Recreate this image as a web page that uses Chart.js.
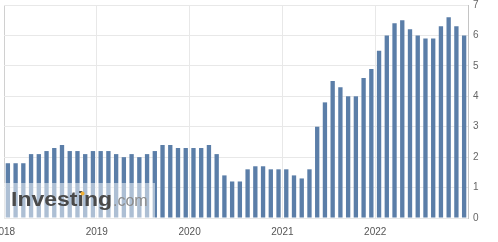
<!DOCTYPE html>
<html>
<head>
<meta charset="utf-8">
<script src="https://cdn.jsdelivr.net/npm/chart.js@4/dist/chart.umd.min.js"></script>
<style>
html,body{margin:0;padding:0;background:#fff;}
#c{display:block;}
</style>
</head>
<body>
<canvas id="c" width="498" height="242"></canvas>
<script>
const years = ['2018','2019','2020','2021','2022'];
const months = ['Jan','Feb','Mar','Apr','May','Jun','Jul','Aug','Sep','Oct','Nov','Dec'];
const values2018 = [1.8,1.8,1.8,2.1,2.1,2.2,2.3,2.4,2.2,2.2,2.1,2.2];
const values2019 = [2.2,2.2,2.1,2.0,2.1,2.0,2.1,2.2,2.4,2.4,2.3,2.3];
const values2020 = [2.3,2.3,2.4,2.1,1.4,1.2,1.2,1.6,1.7,1.7,1.6,1.6];
const values2021 = [1.6,1.4,1.3,1.6,3.0,3.8,4.5,4.3,4.0,4.0,4.6,4.9];
const values2022 = [5.5,6.0,6.4,6.5,6.2,6.0,5.9,5.9,6.3,6.6,6.3,6.0];
const yTicks = [0,1,2,3,4,5,6,7];

const labels = [];
years.forEach(y => months.forEach(m => labels.push(m + ' ' + y)));
const values = [].concat(values2018, values2019, values2020, values2021, values2022);

const watermark = {
  id: 'watermark',
  afterDatasetsDraw(chart) {
    const ctx = chart.ctx;
    const a = chart.chartArea;
    ctx.save();
    ctx.fillStyle = 'rgba(255,255,255,0.5)';
    ctx.fillRect(a.left, 183, 151, a.bottom - 183);
    // "Investing"
    ctx.font = 'bold 20px "Liberation Sans", Arial, sans-serif';
    ctx.textBaseline = 'alphabetic';
    const w = ctx.measureText('Investing').width;
    const sx = 101 / w;
    ctx.save();
    ctx.translate(11, 206);
    ctx.scale(sx, 1);
    ctx.fillStyle = '#4a4a4a';
    ctx.fillText('Investing', 0, 0);
    ctx.restore();
    // yellow dot on the second i
    ctx.fillStyle = '#f2b134';
    ctx.beginPath();
    ctx.arc(82.5, 193.5, 2, 0, Math.PI * 2);
    ctx.fill();
    ctx.font = '16px "Liberation Sans", Arial, sans-serif';
    ctx.fillStyle = '#8c8c8c';
    ctx.fillText('.com', 113, 206);
    ctx.restore();
  }
};

new Chart(document.getElementById('c'), {
  type: 'bar',
  data: {
    labels: labels,
    datasets: [{
      data: values,
      backgroundColor: '#5b7ea8',
      borderWidth: 0,
      barPercentage: 0.56,
      categoryPercentage: 1.0
    }]
  },
  options: {
    responsive: false,
    animation: false,
    layout: { padding: { left: 4, top: 5, right: 0, bottom: 0 } },
    plugins: { legend: { display: false }, tooltip: { enabled: false } },
    scales: {
      x: {
        offset: true,
        grid: {
          offset: true,
          drawTicks: false,
          color: ctx => (ctx.index % 12 === 0) ? (ctx.index === 0 ? '#d0d0d0' : '#e8e8e8') : 'rgba(0,0,0,0)',
          lineWidth: 1
        },
        border: { display: false },
        ticks: {
          autoSkip: false,
          maxRotation: 0,
          minRotation: 0,
          padding: 8,
          labelOffset: -3.87,
          color: '#555',
          font: { family: '"Liberation Sans", Arial, sans-serif', size: 10 },
          callback: (v, i) => (i % 12 === 0) ? years[i / 12] : ''
        },
        afterFit: s => { s.height = 24; s.paddingLeft = 0; s.paddingRight = 0; }
      },
      y: {
        position: 'right',
        min: 0,
        max: 7,
        afterBuildTicks: s => { s.ticks = yTicks.map(v => ({ value: v })); },
        grid: { color: '#e8e8e8', drawTicks: false },
        border: { display: true, color: '#c4c4c4' },
        ticks: {
          padding: 5,
          color: '#666',
          font: { family: '"Liberation Sans", Arial, sans-serif', size: 10 }
        },
        afterFit: s => { s.width = 30; s.paddingTop = 0; s.paddingBottom = 0; }
      }
    }
  },
  plugins: [watermark]
});
</script>
</body>
</html>
